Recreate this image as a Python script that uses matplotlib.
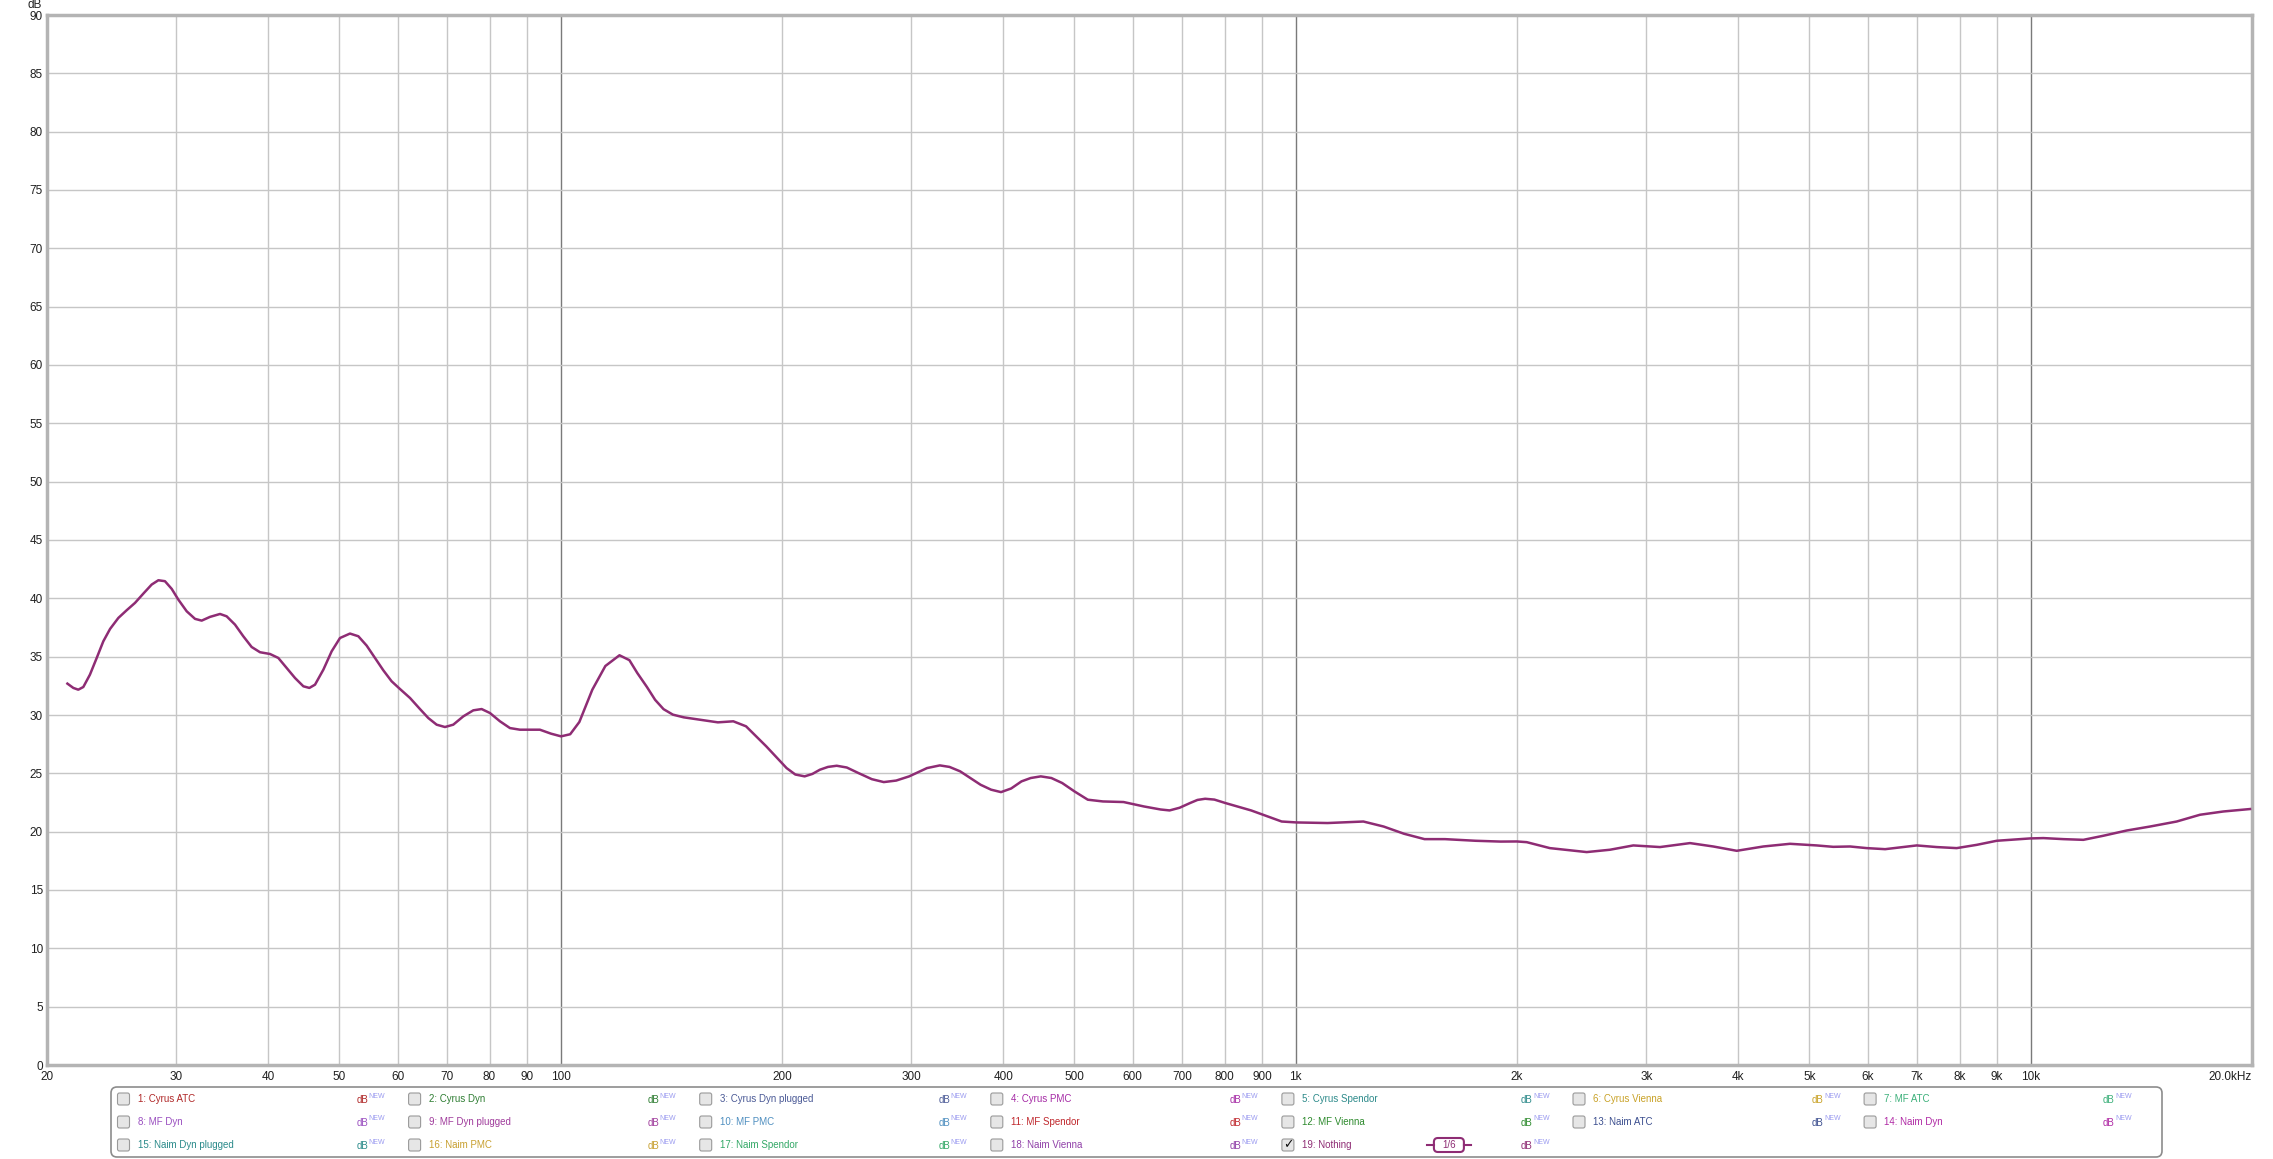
from matplotlib import pyplot as plt
from matplotlib.patches import FancyBboxPatch
from matplotlib.ticker import NullLocator

plt.rcParams['font.family'] = ['Liberation Sans', 'DejaVu Sans']

#####################################################################################################
# measured SPL, "19: Nothing", 1/6 oct smoothing (read off the REW screenshot)
freq = [21.32, 21.72, 22.06, 22.41, 22.88, 23.37, 23.86, 24.37, 25.01, 25.67,
        26.35, 27.05, 27.76, 28.35, 28.94, 29.56, 30.18, 30.98, 31.80, 32.47,
        33.33, 34.39, 35.11, 36.04, 36.99, 37.97, 38.98, 40.22, 41.28, 42.37,
        43.50, 44.65, 45.50, 46.31, 47.54, 48.79, 50.08, 51.67, 53.04, 54.44,
        55.89, 57.36, 58.87, 60.43, 62.36, 64.34, 66.04, 67.79, 69.58, 71.41,
        73.68, 76.04, 78.05, 80.11, 82.66, 85.29, 88.0, 93.68,
        97.0, 100.1, 103.0, 106.0, 110.4, 115.0, 120.2, 124.0, 127.1, 131.0,
        134.4, 138.0, 142.1, 147.0, 154.5, 163.6, 171.7, 178.7, 190.4, 202.9,
        208.5, 214.7, 220.0, 225.2, 231.0, 237.4, 245.0, 254.0, 265.0, 275.1,
        286.0, 297.9, 315.0, 327.9, 338.0, 349.5, 372.6, 385.0, 397.2, 410.0,
        423.5, 436.0, 449.9, 465.0, 481.1, 500.0, 521.3, 546.6, 583.1, 621.6, 655.0,
        673.5, 695.0, 717.9, 735.0, 752.9, 775.0, 802.6, 869.6, 956.9, 1003,
        1105, 1236, 1317, 1404, 1497, 1596, 1756, 1900,
        2000, 2062, 2217, 2488, 2676, 2879, 3130, 3439, 3699, 3981,
        4327, 4704, 5114, 5386, 5677, 5983, 6337, 6997, 7449, 7929,
        8443, 8990, 9980, 10405, 11077, 11792, 12554, 13509, 14530, 15796,
        16993, 18283, 19877]
spl  = [32.69, 32.32, 32.17, 32.40, 33.46, 34.89, 36.32, 37.38, 38.32, 38.98,
        39.61, 40.41, 41.18, 41.55, 41.47, 40.81, 39.89, 38.89, 38.24, 38.09,
        38.41, 38.66, 38.46, 37.75, 36.75, 35.83, 35.38, 35.23, 34.89, 34.03,
        33.17, 32.46, 32.32, 32.60, 33.89, 35.46, 36.60, 36.98, 36.75, 35.95,
        34.89, 33.83, 32.89, 32.23, 31.46, 30.51, 29.74, 29.17, 28.97, 29.17,
        29.88, 30.40, 30.51, 30.17, 29.46, 28.88, 28.74, 28.74,
        28.40, 28.17, 28.35, 29.4, 32.17, 34.2, 35.12, 34.7, 33.6, 32.4,
        31.3, 30.5, 30.03, 29.8, 29.6, 29.37, 29.46, 29.03, 27.31, 25.45,
        24.9, 24.74, 24.95, 25.31, 25.55, 25.65, 25.5, 25.03, 24.5, 24.25,
        24.38, 24.74, 25.45, 25.68, 25.55, 25.17, 24.02, 23.6, 23.39, 23.7,
        24.31, 24.6, 24.74, 24.6, 24.17, 23.45, 22.74, 22.59, 22.54, 22.16, 21.9,
        21.82, 22.05, 22.45, 22.72, 22.82, 22.75, 22.45, 21.82, 20.87, 20.79,
        20.74, 20.87, 20.44, 19.82, 19.36, 19.36, 19.22, 19.15,
        19.16, 19.1, 18.59, 18.25, 18.45, 18.82, 18.68, 19.02, 18.73, 18.36,
        18.73, 18.96, 18.82, 18.7, 18.73, 18.59, 18.5, 18.82, 18.68, 18.59,
        18.87, 19.22, 19.42, 19.45, 19.36, 19.30, 19.65, 20.10, 20.44, 20.87,
        21.45, 21.73, 21.94]

xticks  = [20, 30, 40, 50, 60, 70, 80, 90, 100, 200, 300, 400, 500, 600, 700, 800, 900,
           1000, 2000, 3000, 4000, 5000, 6000, 7000, 8000, 9000, 10000, 20000]
xlabels = ['20', '30', '40', '50', '60', '70', '80', '90', '100', '200', '300', '400', '500',
           '600', '700', '800', '900', '1k', '2k', '3k', '4k', '5k', '6k', '7k', '8k', '9k',
           '10k', '20.0kHz']
yticks  = list(range(0, 95, 5))

names  = ['1: Cyrus ATC', '2: Cyrus Dyn', '3: Cyrus Dyn plugged', '4: Cyrus PMC',
          '5: Cyrus Spendor', '6: Cyrus Vienna', '7: MF ATC', '8: MF Dyn', '9: MF Dyn plugged',
          '10: MF PMC', '11: MF Spendor', '12: MF Vienna', '13: Naim ATC', '14: Naim Dyn',
          '15: Naim Dyn plugged', '16: Naim PMC', '17: Naim Spendor', '18: Naim Vienna',
          '19: Nothing']
colors = ['#b02828', '#2e7d32', '#4b5a96', '#a52aa5', '#2e8b8b', '#c9a227', '#3cb07a',
          '#9a4fc0', '#a03c9c', '#4f8fc0', '#c0282d', '#2e8b2e', '#3c4f8f', '#b02aa5',
          '#2a8a8a', '#c8a030', '#33a866', '#9040a8', '#8e2c74']
checked = [False]*18 + [True]

#####################################################################################################
W, H = 2273, 1159
curve_col = '#8e2c74'

fig = plt.figure(figsize=(W/100., H/100.), dpi=100)
ax  = fig.add_axes([47./W, (H-1065.)/H, (2252.-47.)/W, (1065.-15.)/H])
ax.set_xscale('log')
ax.set_xlim(20, 20000)
ax.set_ylim(0, 90)

# grid, decades a bit darker like REW
for f in xticks:
    c = '#7a7a7a' if f in (100, 1000, 10000) else '#c6c6c6'
    ax.axvline(f, color=c, lw=1.0, zorder=0)
for v in yticks[1:-1]:
    ax.axhline(v, color='#c6c6c6', lw=1.0, zorder=0)

ax.plot(freq, spl, color=curve_col, lw=1.8, zorder=3, solid_joinstyle='round')

ax.set_xticks(xticks)
ax.set_xticklabels(xlabels)
ax.xaxis.set_minor_locator(NullLocator())
ax.set_yticks(yticks)
ax.tick_params(length=0, labelsize=8.5, colors='#202020')
ax.tick_params(axis='x', pad=4)
ax.tick_params(axis='y', pad=3)
ax.get_xticklabels()[-1].set_ha('right')
for s in ax.spines.values():
    s.set_color('#b4b4b4')
    s.set_linewidth(2.5)

#####################################################################################################
# overlay in pixel coords for the "dB" unit and the trace legend
ov = fig.add_axes([0, 0, 1, 1], facecolor='none')
ov.set_xlim(0, W)
ov.set_ylim(H, 0)
ov.axis('off')

ov.text(42, 5, 'dB', ha='right', va='center', fontsize=8.5, color='#202020')

ov.add_patch(FancyBboxPatch((111, 1087), 2051, 70, boxstyle='round,pad=0,rounding_size=6',
                            facecolor='white', edgecolor='#8c8c8c', lw=1.2))

col0, dcol = 123.5, 291.1
rows = [1099, 1122, 1145]
for i, (nm, c) in enumerate(zip(names, colors)):
    cx = col0 + dcol*(i % 7)
    cy = rows[i // 7]
    ov.add_patch(FancyBboxPatch((cx-6, cy-6), 12, 12, boxstyle='round,pad=0,rounding_size=2',
                                facecolor='#e6e6e6', edgecolor='#9a9a9a', lw=0.8))
    if checked[i]:
        ov.text(cx, cy, '\u2713', ha='center', va='center', fontsize=9, color='#111111',
                family=['DejaVu Sans'], fontweight='bold')
    ov.text(cx+14, cy, nm, ha='left', va='center', fontsize=7, color=c)
    ov.text(cx+233, cy+1, 'dB', ha='left', va='center', fontsize=7, color=c)
    ov.text(cx+245, cy-3, 'NEW', ha='left', va='center', fontsize=5, color='#9a9af0')

# smoothing badge next to the checked trace
bx, by = col0 + dcol*4 + 161, rows[2]
ov.plot([bx-22, bx-15], [by, by], color=curve_col, lw=1.5)
ov.plot([bx+15, bx+22], [by, by], color=curve_col, lw=1.5)
ov.add_patch(FancyBboxPatch((bx-15, by-7), 30, 14, boxstyle='round,pad=0,rounding_size=4',
                            facecolor='white', edgecolor=curve_col, lw=1.5))
ov.text(bx, by, '1/6', ha='center', va='center', fontsize=7, color=curve_col)

plt.savefig('out.png', dpi=100)
